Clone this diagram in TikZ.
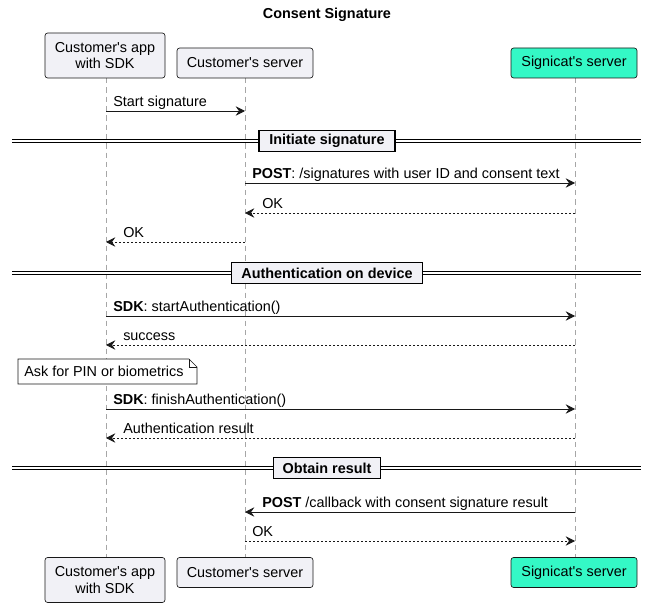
\documentclass[tikz,border=0pt]{standalone}
\usepackage{fontspec}
\setmainfont{Liberation Sans}[Ligatures=TeXOff]
\usetikzlibrary{arrows.meta}
\definecolor{sig}{HTML}{34F8C6}
\definecolor{part}{HTML}{F1F1F6}
\definecolor{pline}{HTML}{181818}
\begin{document}
\begin{tikzpicture}[x=0.75pt,y=-0.75pt,font=\fontsize{10.8}{12.5}\selectfont,
 pbox/.style={draw=pline,fill=part,rounded corners=2pt,line width=0.5pt,align=center,inner sep=0pt},
 life/.style={draw=gray!70,dashed,dash pattern=on 4pt off 3pt,line width=0.6pt},
 msg/.style={draw=pline,line width=0.6pt,-{Stealth[length=7pt,width=7pt,inset=2.5pt]}},
 rep/.style={msg,dash pattern=on 1.5pt off 1.5pt},
 lbl/.style={inner sep=0pt,anchor=base west},
 divbox/.style={draw=black,fill=part,line width=1pt,inner sep=0pt,font=\fontsize{10.8}{12.5}\selectfont\bfseries}]
\useasboundingbox (0,0) rectangle (654,613);
\node[font=\fontsize{10.8}{12.5}\selectfont\bfseries] (title) at (327,15) {Consent Signature};
% lifelines
\coordinate (a0) at (106,78); \coordinate (a1) at (106,557);
\coordinate (b0) at (245,78); \coordinate (b1) at (245,557);
\coordinate (c0) at (575,78); \coordinate (c1) at (575,557);
\draw[life] (a0)--(a1); \draw[life] (b0)--(b1); \draw[life] (c0)--(c1);
% participants
\node[pbox,minimum width=90pt,minimum height=33.75pt] (A) at (105,55.5) {Customer's app\\with SDK};
\node[pbox,minimum width=102pt,minimum height=22.5pt] (B) at (245,63) {Customer's server};
\node[pbox,fill=sig,minimum width=94.5pt,minimum height=22.5pt] (C) at (574,63) {Signicat's server};
\node[pbox,minimum width=90pt,minimum height=33.75pt] (A2) at (105,580) {Customer's app\\with SDK};
\node[pbox,minimum width=102pt,minimum height=22.5pt] (B2) at (245,572.5) {Customer's server};
\node[pbox,fill=sig,minimum width=94.5pt,minimum height=22.5pt] (C2) at (574,572.5) {Signicat's server};
% dividers
\foreach \y/\t/\w [count=\i] in {141/Initiate signature/102, 273/Authentication on device/143.25, 468/Obtain result/80.25}{
 \draw[line width=0.6pt] (12,\y-1.8)--(641,\y-1.8) (12,\y+1.8)--(641,\y+1.8);
 \node[divbox,minimum width=\w pt,minimum height=15.75pt] (d\i) at (327,\y) {\t};
}
% messages
\coordinate (s1a) at (106,111); \coordinate (s1b) at (245,111);
\draw[msg] (s1a)--(s1b); \node[lbl] (l1) at (113,106.5) {Start signature};
\coordinate (s2a) at (245,183); \coordinate (s2b) at (575,183);
\draw[msg] (s2a)--(s2b); \node[lbl] (l2) at (252,178.5) {\textbf{POST}: /signatures with user ID and consent text};
\coordinate (s3a) at (575,213); \coordinate (s3b) at (245,213);
\draw[rep] (s3a)--(s3b); \node[lbl] (l3) at (262,208.5) {OK};
\coordinate (s4a) at (245,242); \coordinate (s4b) at (106,242);
\draw[rep] (s4a)--(s4b); \node[lbl] (l4) at (123,237.5) {OK};
\coordinate (s5a) at (106,316); \coordinate (s5b) at (575,316);
\draw[msg] (s5a)--(s5b); \node[lbl] (l5) at (113,311.5) {\textbf{SDK}: startAuthentication()};
\coordinate (s6a) at (575,345); \coordinate (s6b) at (106,345);
\draw[rep] (s6a)--(s6b); \node[lbl] (l6) at (123,340.5) {success};
% note
\draw[draw=pline,fill=white,line width=0.5pt] (18,359)--(189,359)--(197,367)--(197,384)--(18,384)--cycle;
\draw[draw=pline,line width=0.5pt] (189,359)--(189,367)--(197,367);
\node[inner sep=0pt,anchor=west] (note) at (24,371.5) {Ask for PIN or biometrics};
\coordinate (s7a) at (106,409); \coordinate (s7b) at (575,409);
\draw[msg] (s7a)--(s7b); \node[lbl] (l7) at (113,404.5) {\textbf{SDK}: finishAuthentication()};
\coordinate (s8a) at (575,438); \coordinate (s8b) at (106,438);
\draw[rep] (s8a)--(s8b); \node[lbl] (l8) at (123,433.5) {Authentication result};
\coordinate (s9a) at (575,512); \coordinate (s9b) at (245,512);
\draw[msg] (s9a)--(s9b); \node[lbl] (l9) at (262,507.5) {\textbf{POST} /callback with consent signature result};
\coordinate (s10a) at (245,541); \coordinate (s10b) at (575,541);
\draw[rep] (s10a)--(s10b); \node[lbl] (l10) at (252,536.5) {OK};
\end{tikzpicture}
\end{document}
